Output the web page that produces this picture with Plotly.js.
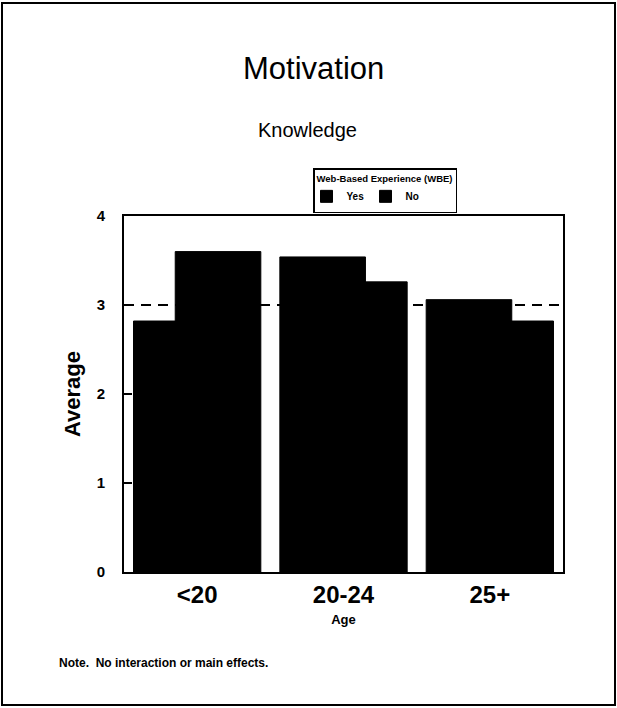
<!DOCTYPE html>
<html>
<head>
<meta charset="utf-8">
<script src="https://cdn.plot.ly/plotly-3.0.1.min.js"></script>
<style>html,body{margin:0;padding:0;background:#fff;}#chart{width:617px;height:708px;}</style>
</head>
<body>
<div id="chart"></div>
<script>
const categories = ['<20', '20-24', '25+'];
const yesValues = [2.82, 3.54, 3.06];
const noValues = [3.60, 3.26, 2.82];
const seriesNames = ['Yes', 'No'];
const yTicks = [0, 1, 2, 3, 4];
const referenceLine = 3;

const font = 'Liberation Sans, Arial, sans-serif';

const traces = [
  {type: 'bar', name: seriesNames[0], x: categories, y: yesValues,
   offset: -0.435, width: 0.585,
   marker: {color: '#000', line: {color: '#000', width: 1}}},
  {type: 'bar', name: seriesNames[1], x: categories, y: noValues,
   offset: -0.15, width: 0.585,
   marker: {color: '#000', line: {color: '#000', width: 1}}}
];

const L = 124, T = 216, W = 439, H = 356;
const px = v => (v - L) / W;
const py = v => (T + H - v) / H;

const layout = {
  width: 617, height: 708,
  margin: {l: 124, r: 54, t: 216, b: 136},
  paper_bgcolor: '#fff', plot_bgcolor: '#fff',
  barmode: 'overlay',
  showlegend: true,
  font: {family: font, color: '#000'},
  legend: {
    orientation: 'h', x: px(457), xanchor: 'right', y: py(168), yanchor: 'top',
    bordercolor: '#000', borderwidth: 1.5, bgcolor: '#fff',
    font: {size: 10, family: font, weight: 'bold'},
    title: {text: '<b>Web-Based Experience (WBE)</b>', side: 'top', font: {size: 9.5, family: font}},
    itemwidth: 30, tracegroupgap: 0, entrywidth: 22, indentation: -8
  },
  xaxis: {
    type: 'category', range: [-0.5, 2.5],
    showline: true, linecolor: '#000', linewidth: 2, mirror: true,
    ticks: '', showgrid: false, zeroline: false,
    tickfont: {size: 24, family: font, weight: 'bold'},
    title: {text: '<b>Age</b>', font: {size: 13}, standoff: 8}
  },
  yaxis: {
    range: [0, 4], tickvals: yTicks,
    showline: true, linecolor: '#000', linewidth: 2, mirror: true,
    ticks: 'inside', ticklen: 8, tickwidth: 1.5, tickcolor: '#000',
    ticklabelstandoff: 14,
    showgrid: false, zeroline: false,
    tickfont: {size: 15, family: font, weight: 'bold'},
    title: {text: '<b>Average</b>', font: {size: 22}, standoff: 10}
  },
  shapes: [
    {type: 'line', xref: 'paper', yref: 'y', x0: 0, x1: 1, y0: referenceLine, y1: referenceLine,
     layer: 'below', line: {color: '#000', width: 2, dash: '10px,7px'}},
    {type: 'rect', xref: 'paper', yref: 'paper', x0: px(2), x1: px(615),
     y0: py(705), y1: py(3),
     line: {color: '#000', width: 2}, fillcolor: 'rgba(0,0,0,0)'}
  ],
  annotations: [
    {text: 'Motivation', xref: 'paper', yref: 'paper', x: px(313), y: py(69),
     xanchor: 'center', yanchor: 'middle', showarrow: false, font: {size: 31, family: font}},
    {text: 'Knowledge', xref: 'paper', yref: 'paper', x: px(307), y: py(130),
     xanchor: 'center', yanchor: 'middle', showarrow: false, font: {size: 20, family: font}},
    {text: '<b>Note.  No interaction or main effects.</b>', xref: 'paper', yref: 'paper',
     x: px(57), y: py(663), xanchor: 'left', yanchor: 'middle', showarrow: false,
     font: {size: 12, family: font}}
  ]
};

Plotly.newPlot('chart', traces, layout, {displayModeBar: false, staticPlot: true});
</script>
</body>
</html>
